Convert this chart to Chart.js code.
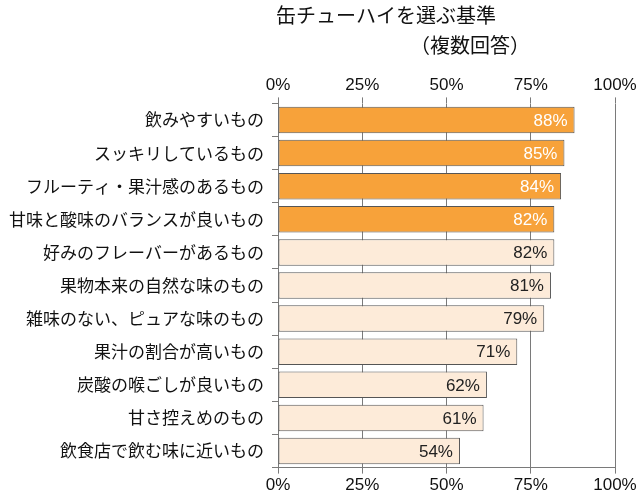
<!DOCTYPE html>
<html>
<head>
<meta charset="utf-8">
<script src="https://cdn.jsdelivr.net/npm/chart.js@4"></script>
<style>
  html, body { margin: 0; padding: 0; background: #fff; }
  #wrap { width: 640px; height: 498px; }
</style>
</head>
<body>
<div id="wrap"><canvas id="chart"></canvas></div>
<script>
const categories = [
    '飲みやすいもの',
    'スッキリしているもの',
    'フルーティ・果汁感のあるもの',
    '甘味と酸味のバランスが良いもの',
    '好みのフレーバーがあるもの',
    '果物本来の自然な味のもの',
    '雑味のない、ピュアな味のもの',
    '果汁の割合が高いもの',
    '炭酸の喉ごしが良いもの',
    '甘さ控えめのもの',
    '飲食店で飲む味に近いもの'
];
const values = [88, 85, 84, 82, 82, 81, 79, 71, 62, 61, 54];
const tickValues = [0, 25, 50, 75, 100];
const highlightCount = 4;

const FONT = '"Noto Sans CJK JP", "Noto Sans", sans-serif';
const NUM_FONT = '"Liberation Sans", Arial, sans-serif';
const orange = '#F7A23A';
const peach = '#FDEBD9';

// バーの値ラベルとタイトル
const labelPlugin = {
    id: 'labels',
    afterDatasetsDraw(chart) {
        const c = chart.ctx;
        const meta = chart.getDatasetMeta(0);
        c.save();
        c.font = '17px ' + NUM_FONT;
        c.textAlign = 'right';
        c.textBaseline = 'middle';
        meta.data.forEach((bar, i) => {
            c.fillStyle = i < highlightCount ? '#ffffff' : '#222222';
            c.fillText(values[i] + '%', bar.x - 7, bar.y + 1);
        });
        c.restore();
    },
    afterDraw(chart) {
        const c = chart.ctx;
        c.save();
        c.fillStyle = '#111111';
        c.font = '20px ' + FONT;
        c.textAlign = 'center';
        c.textBaseline = 'middle';
        c.fillText('缶チューハイを選ぶ基準', 386, 15);
        c.fillText('（複数回答）', 470, 45);
        c.restore();
    }
};

const tickFmt = v => tickValues.includes(v) ? v + '%' : '';

new Chart(document.getElementById('chart'), {
    type: 'bar',
    data: {
        labels: categories,
        datasets: [{
            data: values,
            backgroundColor: values.map((v, i) => i < highlightCount ? orange : peach),
            borderColor: '#555555',
            borderWidth: 1,
            borderSkipped: false,
            barPercentage: 0.8,
            categoryPercentage: 1.0
        }]
    },
    options: {
        indexAxis: 'y',
        responsive: true,
        maintainAspectRatio: false,
        animation: false,
        layout: {
            padding: { top: 73, right: 25, bottom: 0, left: 0 }
        },
        plugins: {
            legend: { display: false },
            tooltip: { enabled: false }
        },
        scales: {
            x: {
                position: 'bottom',
                min: 0,
                max: 100,
                ticks: {
                    stepSize: 25,
                    callback: tickFmt,
                    color: '#111111',
                    font: { family: NUM_FONT, size: 17 },
                    padding: 2
                },
                grid: {
                    color: '#7a7a7a',
                    tickLength: 6
                },
                border: { color: '#7a7a7a' }
            },
            x2: {
                position: 'top',
                min: 0,
                max: 100,
                ticks: {
                    stepSize: 25,
                    callback: tickFmt,
                    color: '#111111',
                    font: { family: NUM_FONT, size: 17 },
                    padding: 2
                },
                grid: {
                    color: '#7a7a7a',
                    drawOnChartArea: false,
                    tickLength: 6
                },
                border: { display: false }
            },
            y: {
                afterFit: scale => { scale.width = 278; },
                ticks: {
                    color: '#111111',
                    font: { family: FONT, size: 17 },
                    padding: 8
                },
                grid: {
                    offset: true,
                    drawOnChartArea: false,
                    color: '#7a7a7a',
                    tickLength: 6
                },
                border: { color: '#7a7a7a' }
            }
        }
    },
    plugins: [labelPlugin]
});
</script>
</body>
</html>
